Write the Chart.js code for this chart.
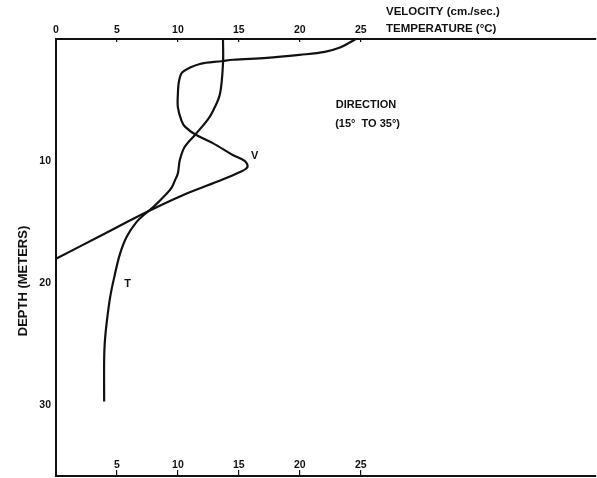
<!DOCTYPE html>
<html>
<head>
<meta charset="utf-8">
<script src="https://cdn.jsdelivr.net/npm/chart.js@4"></script>
<style>
  html, body { margin: 0; padding: 0; background: #fff; }
  #wrap { width: 597px; height: 478px; }
</style>
</head>
<body>
<div id="wrap"><canvas id="profileChart"></canvas></div>
<script>
// depth profile readings (depth in meters)
var velocityDepth = [0, 0.29, 0.7, 1.06, 1.3, 1.55, 1.7, 1.82, 2.05, 2.7, 3.4, 4.5, 5.6, 6.7, 7.2, 7.8, 8.55, 9.5, 10.0, 10.5, 10.9, 11.7, 12.8, 14.2, 16.1, 18.0];
var velocity      = [24.6, 24.1, 23.3, 22.05, 20.0, 17.3, 14.5, 13.6, 11.8, 10.4, 10.1, 10.0, 10.0, 10.3, 10.6, 11.4, 12.9, 14.5, 15.5, 15.7, 15.1, 13.2, 10.4, 7.4, 3.7, 0];

var tempDepth   = [0, 2.0, 4.5, 5.85, 6.6, 7.8, 8.85, 9.95, 11.0, 11.6, 12.15, 12.7, 13.75, 14.2, 15.0, 16.2, 17.6, 19.2, 21.1, 23.3, 24.9, 26.3, 29.7];
var temperature = [13.7, 13.7, 13.45, 12.9, 12.45, 11.45, 10.55, 10.15, 10.0, 9.75, 9.5, 9.05, 8.0, 7.45, 6.6, 5.8, 5.25, 4.85, 4.45, 4.15, 4.0, 3.95, 3.95];

// tick labels
var topTicks = [0, 5, 10, 15, 20, 25];
var bottomTicks = [5, 10, 15, 20, 25];
var depthTicks = [10, 20, 30];

var ink = '#111';
var tickFont = { family: 'Liberation Sans, Arial, sans-serif', size: 10.5, weight: 'bold' };

function toPoints(xs, ys) {
    return xs.map(function(v, i) { return { x: v, y: ys[i] }; });
}

function noPadding(s) {
    s.paddingTop = 0;
    s.paddingBottom = 0;
    s.paddingLeft = 0;
    s.paddingRight = 0;
}

var labelsPlugin = {
    id: 'profileLabels',
    afterDraw: function(chart) {
        var c = chart.ctx;
        var sx = chart.scales.x, sy = chart.scales.y;
        c.save();
        c.fillStyle = ink;
        c.textBaseline = 'middle';
        c.textAlign = 'left';
        c.font = 'bold 11.5px "Liberation Sans", Arial, sans-serif';
        c.fillText('VELOCITY (cm./sec.)', 386, 12);
        c.fillText('TEMPERATURE (\u00B0C)', 386, 29);

        c.font = 'bold 11px "Liberation Sans", Arial, sans-serif';
        c.fillText('DIRECTION', sx.getPixelForValue(22.95), sy.getPixelForValue(5.38));
        c.fillText('(15\u00B0  TO 35\u00B0)', sx.getPixelForValue(22.9), sy.getPixelForValue(7.0));
        c.fillText('V', sx.getPixelForValue(16.0), sy.getPixelForValue(9.55));
        c.fillText('T', sx.getPixelForValue(5.6), sy.getPixelForValue(20.05));

        c.font = 'bold 13px "Liberation Sans", Arial, sans-serif';
        c.translate(23, 281);
        c.rotate(-Math.PI / 2);
        c.textAlign = 'center';
        c.fillText('DEPTH (METERS)', 0, 0);
        c.restore();
    }
};

document.addEventListener('DOMContentLoaded', function() {
    var ctx = document.getElementById('profileChart').getContext('2d');
    var profileChart = new Chart(ctx, {
        type: 'line',
        data: {
            datasets: [{
                label: 'Velocity',
                data: toPoints(velocity, velocityDepth),
                borderColor: ink,
                borderWidth: 2.2,
                pointRadius: 0,
                tension: 0.35,
                fill: false
            }, {
                label: 'Temperature',
                data: toPoints(temperature, tempDepth),
                borderColor: ink,
                borderWidth: 2.2,
                pointRadius: 0,
                tension: 0.35,
                fill: false
            }]
        },
        options: {
            responsive: true,
            maintainAspectRatio: false,
            animation: false,
            layout: { padding: { right: 1 } },
            plugins: {
                legend: { display: false },
                tooltip: { enabled: false }
            },
            scales: {
                x: {
                    type: 'linear',
                    position: 'top',
                    min: 0,
                    max: 44.3,
                    afterBuildTicks: function(s) { s.ticks = topTicks.map(function(v) { return { value: v }; }); },
                    afterFit: function(s) { s.height = 39; noPadding(s); },
                    ticks: { font: tickFont, color: ink, padding: 5.5, maxRotation: 0, autoSkip: false },
                    grid: { drawOnChartArea: false, drawTicks: true, tickLength: -3, color: ink, lineWidth: 1.2 },
                    border: { display: true, color: ink, width: 2 }
                },
                x2: {
                    type: 'linear',
                    position: 'bottom',
                    min: 0,
                    max: 44.3,
                    afterBuildTicks: function(s) { s.ticks = bottomTicks.map(function(v) { return { value: v }; }); },
                    afterFit: function(s) { s.height = 2; noPadding(s); },
                    ticks: { font: tickFont, color: ink, padding: 5, mirror: true, maxRotation: 0, autoSkip: false },
                    grid: { drawOnChartArea: false, drawTicks: true, tickLength: -6, color: ink, lineWidth: 1.2 },
                    border: { display: true, color: ink, width: 2 }
                },
                y: {
                    type: 'linear',
                    position: 'left',
                    reverse: true,
                    min: 0,
                    max: 35.8,
                    afterBuildTicks: function(s) { s.ticks = depthTicks.map(function(v) { return { value: v }; }); },
                    afterFit: function(s) { s.width = 56; noPadding(s); },
                    ticks: { font: tickFont, color: ink, padding: 5, autoSkip: false },
                    grid: { drawOnChartArea: false, drawTicks: false },
                    border: { display: true, color: ink, width: 2 }
                }
            }
        },
        plugins: [labelsPlugin]
    });
});
</script>
</body>
</html>
